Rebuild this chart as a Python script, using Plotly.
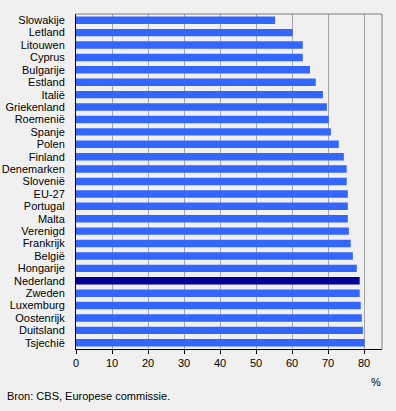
import plotly.graph_objects as go

countries = ["Slowakije", "Letland", "Litouwen", "Cyprus", "Bulgarije", "Estland", "Italië",
             "Griekenland", "Roemenië", "Spanje", "Polen", "Finland", "Denemarken", "Slovenië",
             "EU-27", "Portugal", "Malta", "Verenigd", "Frankrijk", "België", "Hongarije",
             "Nederland", "Zweden", "Luxemburg", "Oostenrijk", "Duitsland", "Tsjechië"]
values = [55.3, 60.2, 63.0, 63.0, 65.0, 66.6, 68.6, 69.7, 70.2, 70.8, 73.0, 74.4, 75.2, 75.2,
          75.5, 75.5, 75.5, 75.8, 76.3, 76.9, 78.0, 78.8, 78.8, 79.1, 79.4, 79.7, 80.2]
x_ticks = [0, 10, 20, 30, 40, 50, 60, 70, 80]
highlight = "Nederland"

colors = ["#000099" if c == highlight else "#3366FF" for c in countries]

W, H = 396, 411
ml, mr, mt, mb = 75.5, 13.7, 14, 61.7

fig = go.Figure(go.Bar(
    x=values, y=countries, orientation="h",
    marker=dict(color=colors, line=dict(width=0)),
    hoverinfo="x+y",
))

fig.update_layout(
    width=W, height=H,
    margin=dict(l=ml, r=mr, t=mt, b=mb, pad=0, autoexpand=False),
    paper_bgcolor="#F0F0F0", plot_bgcolor="#F0F0F0",
    font=dict(family="Liberation Sans, Arial, sans-serif", size=11, color="#000000"),
    bargap=0.4,
    showlegend=False,
    xaxis=dict(range=[0, 85], tickmode="array", tickvals=x_ticks, showgrid=True,
               gridcolor="#A6A6A6", gridwidth=1, automargin=False,
               zeroline=False, showline=True, linecolor="#000000", linewidth=1,
               ticks="outside", ticklen=4, tickcolor="#000000", fixedrange=True,
               tickfont=dict(size=11)),
    yaxis=dict(categoryorder="array", categoryarray=countries, autorange="reversed",
               tickmode="array", tickvals=countries, ticktext=countries, automargin=False,
               showgrid=False, zeroline=False, showline=True, linecolor="#000000", linewidth=1,
               ticks="", ticklabelstandoff=8, fixedrange=True),
    shapes=[
        dict(type="line", xref="paper", yref="paper", x0=0, x1=1, y0=1, y1=1,
             line=dict(color="#808080", width=1)),
        dict(type="line", xref="paper", yref="paper", x0=1, x1=1, y0=0, y1=1,
             line=dict(color="#808080", width=1)),
    ],
    annotations=[
        dict(text="%", xref="paper", yref="paper", x=(376 - ml) / (W - ml - mr),
             y=-(382 - (H - mb)) / (H - mt - mb), xanchor="center", yanchor="middle",
             showarrow=False, font=dict(size=11)),
        dict(text="Bron: CBS, Europese commissie.", xref="paper", yref="paper",
             x=-(ml - 4) / (W - ml - mr), y=-(396 - (H - mb)) / (H - mt - mb),
             xanchor="left", yanchor="middle", showarrow=False, font=dict(size=11)),
    ],
)

fig.write_html("out.html", config={"displayModeBar": False},
               post_script="document.body.style.margin='0';document.body.style.background='#F0F0F0';")
